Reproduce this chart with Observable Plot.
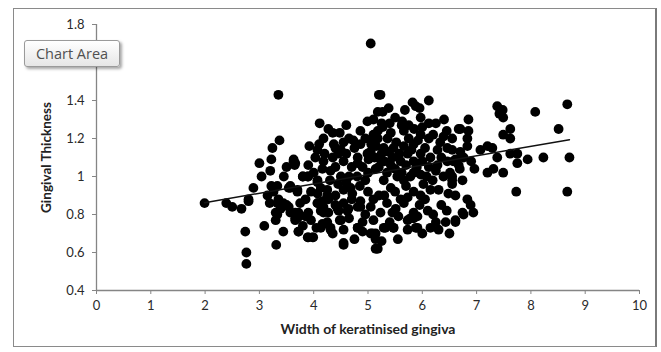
<!DOCTYPE html>
<html>
<head>
<meta charset="utf-8">
<script src="https://cdn.jsdelivr.net/npm/d3@7"></script>
<script src="https://cdn.jsdelivr.net/npm/@observablehq/plot@0.6"></script>
<style>
  html, body { margin: 0; padding: 0; background: #fff; }
  #wrap { position: relative; width: 661px; height: 352px; overflow: hidden; }
  #frame { position: absolute; left: 13px; top: 8px; width: 641px; height: 337px; border: 1px solid #8a8a8a; border-right: 2px solid #7a7a7a; pointer-events: none; }
  #tip { position: absolute; left: 24px; top: 40px; width: 94px; height: 25px; border: 1px solid #9a9a9a; border-radius: 3px;
         background: linear-gradient(#ffffff, #e6e6e6); box-shadow: 2px 2px 3px rgba(0,0,0,0.35);
         font-family: "Open Sans", sans-serif; font-size: 14.5px; color: #505050; line-height: 25px; text-align: center; white-space: nowrap; }
  svg { position: absolute; left: 0; top: 0; }
</style>
</head>
<body>
<div id="wrap"></div>
<script>
// Width of keratinised gingiva (x) and Gingival Thickness (y)
const widthKG = [
 1.99,2.39,2.5,2.67,2.8,2.89,2.74,2.76,2.76,3.0,3.04,3.37,3.24,3.22,3.2,3.22,3.26,3.33,3.09,3.3,3.3,3.31,3.44,3.63,3.65,3.57,3.35,3.44,3.54,3.57,3.66,3.35,2.8,3.19,3.33,3.39,3.33,3.5,3.7,3.54,3.8,3.89,4.07,4.13,3.7,3.66,3.9,4.07,4.18,4.18,3.72,3.89,3.98,4.13,4.25,4.31,4.55,4.48,4.81,4.86,5.08,5.14,5.16,5.29,5.47,4.44,4.62,4.27,5.73,5.84,
 4.11,4.27,4.35,4.48,4.18,4.37,3.92,4.07,3.63,3.66,4.03,4.18,4.35,4.5,4.55,3.9,4.16,4.31,3.8,3.9,4.07,3.57,3.70,4.07,4.25,4.16,4.27,4.07,4.13,4.4,4.55,4.68,4.71,4.46,4.64,4.81,4.86,3.66,3.72,3.85,3.72,3.9,3.99,4.16,4.25,4.31,4.35,4.5,4.55,4.81,4.9,5.05,5.14,4.99,4.86,4.95,4.73,4.86,5.05,4.81,4.99,4.81,5.01,5.18,5.2,5.18,5.05,
 5.23,5.82,5.88,6.12,5.27,5.38,5.27,5.5,5.63,5.97,6.12,6.67,6.39,6.33,5.97,6.12,5.10,5.18,5.66,5.42,5.06,6.28,6.46,6.61,6.67,6.46,6.28,6.39,6.55,6.48,6.61,6.15,6.02,5.84,5.97,5.73,6.1,5.84,5.91,5.66,5.51,5.56,5.45,5.78,5.88,5.73,6.15,5.91,6.43,6.61,5.32,5.47,5.14,5.18,5.1,5.23,5.2,5.42,5.29,5.54,5.66,5.84,5.97,6.12,6.19,5.42,5.6,5.73,5.84,5.97,5.23,5.14,5.29,5.47,5.36,5.84,5.66,
 6.85,6.70,6.85,6.83,6.83,7.38,7.48,7.42,7.49,8.08,8.67,7.62,7.49,7.62,8.51,7.07,7.2,7.29,7.62,7.75,7.75,7.94,8.23,8.71,7.38,6.96,7.2,7.31,7.49,7.73,8.67,6.76,6.69,6.74,6.55,6.83,6.89,6.74,6.94,6.61,6.76,6.57,6.51,6.55,
 4.6,4.7,4.75,4.9,4.95,5.0,5.05,5.12,5.15,5.2,5.25,5.3,5.35,5.38,5.45,5.5,5.52,5.58,5.62,5.7,5.75,5.78,5.8,5.9,5.92,6.0,6.05,6.08,6.15,6.2,6.25,4.65,4.8,4.85,4.6,4.5,4.4,4.45,4.3,5.0,5.1,5.3,5.5,5.6,5.05,5.35,4.95,5.7,5.95,6.05,6.3,6.35,6.2,5.62,5.75,5.85,6.0,6.25,6.45,6.55,6.55,5.25,5.4,5.1,4.6,4.65,4.55,4.4,4.1,4.2,4.45,5.68,5.95,6.4,6.7,6.35,6.9,6.45,6.3,6.5,5.55,5.25,4.75,4.65,4.9,5.4,6.0,6.25,4.55,4.7,4.0,4.25,4.4,3.95,3.85,3.75,3.95,3.8,4.05,4.55,3.45,3.5,3.15
];
const thickness = [
 0.86,0.86,0.84,0.83,0.88,0.94,0.71,0.60,0.54,1.07,1.0,1.19,1.15,1.09,1.03,0.95,0.92,0.95,0.74,0.81,0.77,0.64,0.71,1.08,1.06,0.95,0.88,0.86,0.84,0.81,0.77,1.43,0.87,0.86,0.86,0.83,0.80,0.85,0.92,0.94,1.0,1.0,0.97,0.94,0.78,0.81,0.81,0.86,0.84,0.81,0.71,0.68,0.68,0.73,0.75,0.72,0.64,0.77,0.73,0.84,0.70,0.67,0.62,0.73,0.73,0.83,0.82,0.81,0.77,0.78,
 1.28,1.25,1.23,1.23,1.20,1.17,1.16,1.14,1.09,1.07,1.10,1.08,1.10,1.14,1.08,1.06,1.04,1.03,1.0,1.0,0.98,0.94,0.93,0.91,0.93,0.87,0.88,0.86,0.82,0.90,0.93,0.94,0.91,0.82,0.83,0.84,0.87,0.78,0.81,0.79,0.71,0.68,0.68,0.75,0.76,0.73,0.70,0.77,0.65,0.73,0.71,0.70,0.62,1.29,1.24,1.20,1.19,1.17,1.19,1.10,1.12,1.07,1.09,1.24,1.43,1.34,1.70,
 1.43,1.39,1.37,1.40,1.34,1.36,1.26,1.31,1.29,1.31,1.28,1.25,1.21,1.18,1.22,1.20,1.22,1.20,1.24,1.23,1.17,1.14,1.15,1.09,1.06,1.08,1.06,1.0,0.98,0.91,0.90,0.93,0.96,0.92,0.90,0.89,0.82,0.81,0.79,0.86,0.83,0.79,0.81,0.78,0.73,0.72,0.73,0.73,0.76,0.77,0.73,0.73,0.70,0.62,0.77,0.81,0.90,0.94,0.98,1.0,0.98,1.02,1.01,1.05,0.98,1.06,1.08,1.12,1.08,1.12,1.09,1.04,1.15,1.15,1.20,1.17,1.16,
 1.30,1.25,1.24,1.20,1.16,1.37,1.35,1.33,1.31,1.34,1.38,1.25,1.22,1.20,1.25,1.14,1.16,1.15,1.12,1.12,1.07,1.09,1.10,1.10,1.10,1.04,1.02,1.04,1.02,0.92,0.92,1.10,1.04,0.98,1.0,0.88,0.85,0.81,0.81,0.76,0.80,1.08,1.02,0.96,
 1.12,1.05,1.15,1.05,0.98,1.02,1.13,1.10,1.16,1.05,1.12,1.08,1.02,1.13,1.10,1.04,1.18,1.12,1.02,1.06,1.20,1.00,1.14,1.05,1.19,1.08,1.15,1.00,1.10,1.22,1.03,1.00,1.00,0.95,0.97,1.00,1.05,0.96,0.98,0.92,0.88,0.90,0.92,0.88,0.84,0.86,0.80,0.95,0.85,0.88,0.93,0.85,0.80,1.27,1.27,1.25,1.26,1.28,1.24,1.20,1.14,1.28,1.28,1.30,1.27,1.20,1.18,1.15,1.17,1.12,1.12,1.35,1.36,1.30,1.13,1.10,1.08,0.82,0.72,0.70,0.67,0.66,0.67,0.78,0.76,0.76,0.70,0.76,0.86,0.88,1.02,0.90,0.85,0.92,0.88,0.86,0.77,0.74,0.73,0.72,1.00,1.05,0.90
];
// Linear trend line shown in the chart
const trendSlope = 0.0493;
const trendIntercept = 0.764;
const xTicks = [0,1,2,3,4,5,6,7,8,9,10];
const yTicks = [0.4,0.6,0.8,1,1.2,1.4,1.6,1.8];
// The "Chart Area" tooltip hides the 1.6 label in the reference
const yTicksHidden = [1.6];

const points = widthKG.map((x, i) => ({x, y: thickness[i]}));
const xmin = d3.min(widthKG), xmax = d3.max(widthKG);
const trend = [xmin, xmax].map(x => ({x, y: trendIntercept + trendSlope * x}));

const chart = Plot.plot({
  width: 661,
  height: 352,
  marginLeft: 96,
  marginRight: 22,
  marginTop: 24,
  marginBottom: 62,
  style: {fontFamily: "Lato, sans-serif", fontSize: "13px", color: "#333", background: "transparent"},
  x: {domain: [0, 10]},
  y: {domain: [0.4, 1.8]},
  marks: [
    Plot.ruleX([0], {stroke: "#858585", strokeWidth: 1.3}),
    Plot.ruleY([0.4], {stroke: "#858585", strokeWidth: 1.3}),
    Plot.axisX({ticks: xTicks, tickSize: 4, tickPadding: 6, stroke: "#858585", fill: "#2a2a2a", label: null, tickFormat: d => String(d)}),
    Plot.axisY({ticks: yTicks, tickSize: 4, tickPadding: 8, stroke: "#858585", fill: "#2a2a2a", label: null,
                tickFormat: d => yTicksHidden.includes(d) ? "" : String(+d.toFixed(1))}),
    Plot.dot(points, {x: "x", y: "y", r: 4.9, fill: "#000", stroke: "none"}),
    Plot.line(trend, {x: "x", y: "y", stroke: "#111", strokeWidth: 1.5}),
    Plot.text(["Width of keratinised gingiva"], {frameAnchor: "bottom", dy: 43, fontWeight: "bold", fontSize: 14, fill: "#222"}),
    Plot.text(["Gingival Thickness"], {frameAnchor: "left", dx: -50, rotate: -90, textAnchor: "middle", fontWeight: "bold", fontSize: 13.5, fill: "#222"})
  ]
});
const wrap = document.getElementById("wrap");
wrap.appendChild(chart);
const frame = document.createElement("div"); frame.id = "frame"; wrap.appendChild(frame);
const tip = document.createElement("div"); tip.id = "tip"; tip.textContent = "Chart Area"; wrap.appendChild(tip);
</script>
</body>
</html>
